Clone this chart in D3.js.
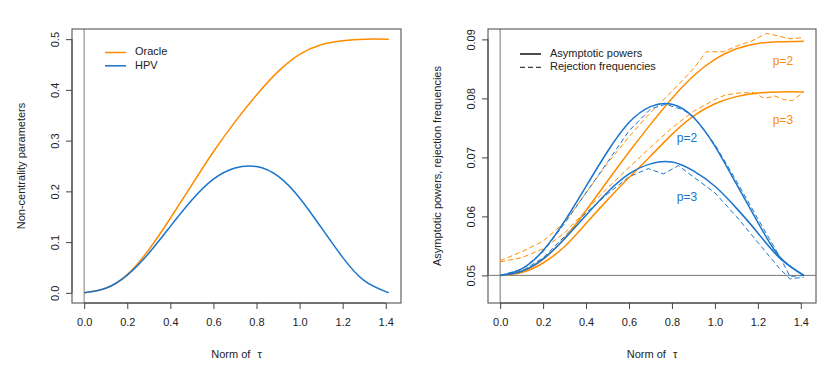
<!DOCTYPE html>
<html>
<head>
<meta charset="utf-8">
<script src="https://cdn.jsdelivr.net/npm/d3@7"></script>
<style>
  body { margin: 0; background: #fff; }
  text { font-family: "Liberation Sans", Arial, sans-serif; fill: #222; }
</style>
</head>
<body>
<div id="chart"></div>
<script>
// values
const tau = [0, 0.1, 0.2, 0.3, 0.4, 0.5, 0.6, 0.7, 0.8, 0.9, 1.0, 1.1, 1.2, 1.3, 1.414];

// left panel: non-centrality parameters
const oracle = [0, 0.009, 0.036, 0.085, 0.147, 0.213, 0.278, 0.337, 0.390, 0.436, 0.470, 0.489, 0.497, 0.500, 0.500];
const hpv = [0, 0.009, 0.035, 0.078, 0.131, 0.183, 0.224, 0.246, 0.249, 0.230, 0.187, 0.129, 0.070, 0.024, 0];

// right panel: asymptotic powers (solid)
const orangeP2 = [0.05, 0.0507, 0.0527, 0.0563, 0.0610, 0.0660, 0.0709, 0.0756, 0.0800, 0.0838, 0.0866, 0.0884, 0.0893, 0.0896, 0.0897];
const orangeP3 = [0.05, 0.0505, 0.0521, 0.0549, 0.0588, 0.0628, 0.0666, 0.0702, 0.0739, 0.0770, 0.0791, 0.0803, 0.0809, 0.0811, 0.0811];
const blueP2 = [0.05, 0.0511, 0.0542, 0.0592, 0.0651, 0.0710, 0.0759, 0.0786, 0.0790, 0.0768, 0.0719, 0.0655, 0.0590, 0.0532, 0.05];
const blueP3 = [0.05, 0.0507, 0.0528, 0.0562, 0.0602, 0.0641, 0.0672, 0.0689, 0.0692, 0.0677, 0.0651, 0.0614, 0.0572, 0.0530, 0.05];

// right panel: rejection frequencies (dashed), simulation grid
const orangeP2RejX = [0, 0.1, 0.2, 0.3, 0.4, 0.5, 0.6, 0.7, 0.8, 0.9, 0.96, 1.04, 1.11, 1.17, 1.24, 1.28, 1.35, 1.414];
const orangeP2Rej = [0.0525, 0.0540, 0.0558, 0.0590, 0.0640, 0.0690, 0.0735, 0.0776, 0.0812, 0.0850, 0.0879, 0.0879, 0.0890, 0.0897, 0.0910, 0.0907, 0.0901, 0.0903];
const orangeP3RejX = [0, 0.1, 0.2, 0.3, 0.4, 0.5, 0.6, 0.7, 0.8, 0.9, 1.0, 1.05, 1.11, 1.18, 1.23, 1.28, 1.32, 1.36, 1.414];
const orangeP3Rej = [0.0523, 0.0530, 0.0545, 0.0572, 0.0610, 0.0648, 0.0683, 0.0717, 0.0750, 0.0778, 0.0798, 0.0806, 0.0809, 0.0810, 0.0800, 0.0804, 0.0798, 0.0796, 0.0811];
const blueP2RejX = [0, 0.1, 0.2, 0.3, 0.4, 0.5, 0.6, 0.7, 0.77, 0.85, 0.9, 1.0, 1.1, 1.2, 1.3, 1.35, 1.414];
const blueP2Rej = [0.0500, 0.0510, 0.0540, 0.0588, 0.0640, 0.0692, 0.0745, 0.0782, 0.0790, 0.0781, 0.0769, 0.0722, 0.0660, 0.0596, 0.0533, 0.0498, 0.0500];
const blueP3RejX = [0, 0.1, 0.2, 0.3, 0.4, 0.5, 0.6, 0.69, 0.76, 0.83, 0.9, 1.0, 1.1, 1.2, 1.3, 1.35, 1.414];
const blueP3Rej = [0.0500, 0.0507, 0.0530, 0.0566, 0.0606, 0.0638, 0.0667, 0.0681, 0.0672, 0.0686, 0.0667, 0.0640, 0.0600, 0.0556, 0.0512, 0.0494, 0.0497];

const xTicks = [0, 0.2, 0.4, 0.6, 0.8, 1.0, 1.2, 1.4];
const leftYTicks = [0, 0.1, 0.2, 0.3, 0.4, 0.5];
const rightYTicks = [0.05, 0.06, 0.07, 0.08, 0.09];

const orange = "#FF8C00";
const blue = "#1874CD";

const svg = d3.select("#chart").append("svg")
    .attr("width", 831)
    .attr("height", 376);

function panel(opts) {
    const { left, right, top, bottom } = opts;
    const x = d3.scaleLinear().domain([-0.0566, 1.4708]).range([left, right]);
    const y = d3.scaleLinear().domain(opts.yDomain).range([bottom, top]);
    const g = svg.append("g");

    // reference line at tau = 0
    g.append("line")
        .attr("x1", x(0)).attr("x2", x(0))
        .attr("y1", top).attr("y2", bottom)
        .attr("stroke", opts.vColor).attr("stroke-width", opts.vWidth);

    // x axis
    const xAxis = g.append("g")
        .attr("transform", `translate(0,${bottom})`)
        .call(d3.axisBottom(x).tickValues(xTicks).tickSize(6).tickPadding(9).tickFormat(d3.format(".1f")));
    xAxis.select(".domain").attr("d", `M${x(0)},0H${x(1.4)}`).attr("stroke", "#444");
    xAxis.selectAll("line").attr("stroke", "#444");
    xAxis.selectAll("text").attr("font-size", 11).style("font-family", "Liberation Sans, Arial, sans-serif").attr("fill", "#222");

    // y axis, labels turned like R does
    const yAxis = g.append("g")
        .attr("transform", `translate(${left},0)`)
        .call(d3.axisLeft(y).tickValues(opts.yTicks).tickSize(6).tickFormat(opts.yFormat));
    yAxis.select(".domain").attr("d", `M0,${y(opts.yTicks[0])}V${y(opts.yTicks[opts.yTicks.length - 1])}`).attr("stroke", "#444");
    yAxis.selectAll("line").attr("stroke", "#444");
    yAxis.selectAll("text")
        .attr("font-size", 11)
        .style("font-family", "Liberation Sans, Arial, sans-serif")
        .attr("fill", "#222")
        .attr("x", null).attr("dy", null)
        .attr("text-anchor", "middle")
        .attr("transform", "translate(-16,0) rotate(-90)")
        .attr("y", 0)
        .attr("dominant-baseline", "middle");

    // box
    g.append("rect")
        .attr("x", left).attr("y", top)
        .attr("width", right - left).attr("height", bottom - top)
        .attr("fill", "none").attr("stroke", "#444");

    // titles
    const xt = g.append("text")
        .attr("x", (left + right) / 2)
        .attr("y", 358)
        .attr("text-anchor", "middle")
        .attr("font-size", 11);
    xt.append("tspan").text("Norm of ");
    xt.append("tspan").attr("dx", 4).text("τ");

    g.append("text")
        .attr("transform", `translate(${opts.yTitleX},${(top + bottom) / 2}) rotate(-90)`)
        .attr("text-anchor", "middle")
        .attr("dominant-baseline", "middle")
        .attr("font-size", 11)
        .text(opts.yTitle);

    return { g, x, y };
}

// ---- left panel ----
const L = panel({
    left: 72, right: 401, top: 29, bottom: 303,
    yDomain: [-0.02, 0.52], yTicks: leftYTicks, yFormat: d3.format(".1f"),
    vColor: "#aaa", vWidth: 1.5,
    yTitle: "Non-centrality parameters", yTitleX: 22
});

const lineL = d3.line()
    .x((d, i) => L.x(tau[i]))
    .y(d => L.y(d))
    .curve(d3.curveNatural);

L.g.append("path").attr("d", lineL(oracle)).attr("fill", "none").attr("stroke", orange).attr("stroke-width", 1.5);
L.g.append("path").attr("d", lineL(hpv)).attr("fill", "none").attr("stroke", blue).attr("stroke-width", 1.5);

const legL = [{ name: "Oracle", color: orange, y: 52.5 }, { name: "HPV", color: blue, y: 65.8 }];
legL.forEach(d => {
    L.g.append("line").attr("x1", 105).attr("x2", 126).attr("y1", d.y).attr("y2", d.y)
        .attr("stroke", d.color).attr("stroke-width", 1.5);
    L.g.append("text").attr("x", 135).attr("y", d.y).attr("dominant-baseline", "middle")
        .attr("font-size", 11).text(d.name);
});

// ---- right panel ----
const R = panel({
    left: 488, right: 816, top: 29, bottom: 303,
    yDomain: [0.04532, 0.09176], yTicks: rightYTicks, yFormat: d3.format(".2f"),
    vColor: "#777", vWidth: 1,
    yTitle: "Asymptotic powers, rejection frequencies", yTitleX: 438
});

R.g.append("line")
    .attr("x1", 488).attr("x2", 816)
    .attr("y1", R.y(0.05)).attr("y2", R.y(0.05))
    .attr("stroke", "#777").attr("stroke-width", 1);

const solidR = d3.line()
    .x((d, i) => R.x(tau[i]))
    .y(d => R.y(d))
    .curve(d3.curveNatural);

function dashedR(xs, ys, color) {
    const line = d3.line().x((d, i) => R.x(xs[i])).y(d => R.y(d));
    R.g.append("path").attr("d", line(ys)).attr("fill", "none")
        .attr("stroke", color).attr("stroke-width", 1).attr("stroke-dasharray", "5,3");
}

dashedR(orangeP2RejX, orangeP2Rej, orange);
dashedR(orangeP3RejX, orangeP3Rej, orange);
dashedR(blueP2RejX, blueP2Rej, blue);
dashedR(blueP3RejX, blueP3Rej, blue);

[[orangeP2, orange], [orangeP3, orange], [blueP2, blue], [blueP3, blue]].forEach(([vals, color]) => {
    R.g.append("path").attr("d", solidR(vals)).attr("fill", "none")
        .attr("stroke", color).attr("stroke-width", 1.5);
});

// curve labels
const labels = [
    { t: "p=2", x: 783, y: 62, c: orange },
    { t: "p=3", x: 783, y: 121, c: orange },
    { t: "p=2", x: 687, y: 138.5, c: blue },
    { t: "p=3", x: 687, y: 197.5, c: blue }
];
labels.forEach(d => {
    R.g.append("text").attr("x", d.x).attr("y", d.y)
        .attr("text-anchor", "middle").attr("dominant-baseline", "middle")
        .attr("font-size", 12).style("fill", d.c).text(d.t);
});

// legend
const legR = [{ name: "Asymptotic powers", dash: null, y: 54 }, { name: "Rejection frequencies", dash: "5,3", y: 67.3 }];
legR.forEach(d => {
    R.g.append("line").attr("x1", 520).attr("x2", 541).attr("y1", d.y).attr("y2", d.y)
        .attr("stroke", "#111").attr("stroke-width", d.dash ? 1 : 1.5)
        .attr("stroke-dasharray", d.dash);
    R.g.append("text").attr("x", 550).attr("y", d.y).attr("dominant-baseline", "middle")
        .attr("font-size", 11).text(d.name);
});
</script>
</body>
</html>
